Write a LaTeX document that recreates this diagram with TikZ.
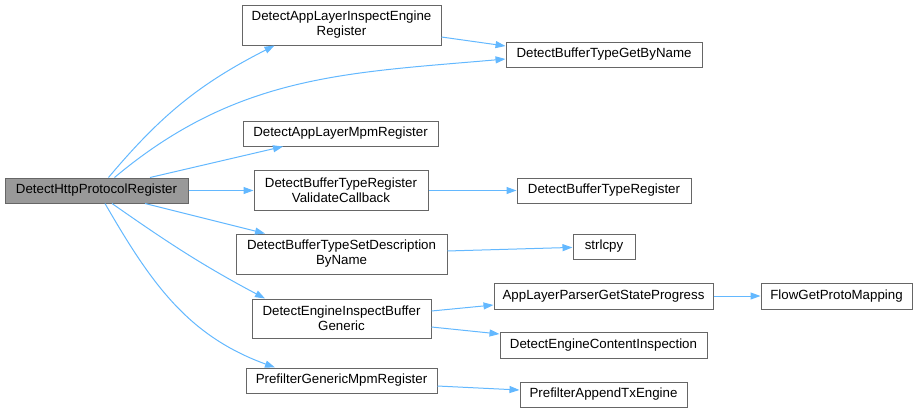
\documentclass[tikz,border=0pt]{standalone}
\usepackage{fontspec}
\setmainfont{Liberation Sans}
\usetikzlibrary{arrows.meta}
\definecolor{edgeblue}{HTML}{63B8FF}
\definecolor{boxgray}{HTML}{666666}
\definecolor{mainfill}{HTML}{999999}
\tikzset{
  fn/.style={draw=boxgray, fill=white, line width=1pt, align=center, inner sep=2pt,
    font=\fontsize{13.3}{15}\selectfont},
  mainfn/.style={fn, fill=mainfill},
  call/.style={draw=edgeblue, line width=1pt, -{Triangle[length=10pt,width=7pt]}}
}
\begin{document}
\begin{tikzpicture}[x=1pt,y=-1pt]
            \useasboundingbox (0,0) rectangle (917,413);
            \node[mainfn, minimum width=183, minimum height=25] (hpr) at (96.5,190.5) {DetectHttpProtocolRegister};
            \node[fn, minimum width=199, minimum height=40] (ireg) at (341.5,25) {DetectAppLayerInspectEngine\\Register};
            \node[fn, minimum width=196, minimum height=25] (gbn) at (604,54.5) {DetectBufferTypeGetByName};
            \node[fn, minimum width=195, minimum height=25] (mpm) at (340.5,133.5) {DetectAppLayerMpmRegister};
            \node[fn, minimum width=174, minimum height=40] (vcb) at (341,190.5) {DetectBufferTypeRegister\\ValidateCallback};
            \node[fn, minimum width=174, minimum height=25] (btr) at (604,190.5) {DetectBufferTypeRegister};
            \node[fn, minimum width=211, minimum height=40] (sdn) at (341.5,254) {DetectBufferTypeSetDescription\\ByName};
            \node[fn, minimum width=62, minimum height=25] (strl) at (604,246.5) {strlcpy};
            \node[fn, minimum width=179, minimum height=39] (ibg) at (341.5,318.5) {DetectEngineInspectBuffer\\Generic};
            \node[fn, minimum width=219, minimum height=26] (aps) at (603.5,296) {AppLayerParserGetStateProgress};
            \node[fn, minimum width=151, minimum height=26] (fgp) at (836.5,296) {FlowGetProtoMapping};
            \node[fn, minimum width=207, minimum height=26] (eci) at (603.5,345) {DetectEngineContentInspection};
            \node[fn, minimum width=191, minimum height=25] (pgm) at (341.5,380.5) {PrefilterGenericMpmRegister};
            \node[fn, minimum width=167, minimum height=25] (pat) at (603.5,394.5) {PrefilterAppendTxEngine};
            % calls from DetectHttpProtocolRegister
            \draw[call] ([xshift=12]hpr.north) to[out=50, in=207] ([xshift=-67]ireg.south);
            \draw[call] ([xshift=18]hpr.north) to[out=40, in=185] ([yshift=-4.5]gbn.west);
            \draw[call] ([xshift=53.5]hpr.north) -- ([xshift=-57.5]mpm.south);
            \draw[call] (hpr) -- (vcb);
            \draw[call] ([xshift=48.5]hpr.south) -- ([xshift=-76.5]sdn.north);
            \draw[call] ([xshift=15.5]hpr.south) to[out=-35, in=152] ([xshift=-76.5]ibg.north);
            \draw[call] ([xshift=8.5]hpr.south) to[out=-60, in=160] ([xshift=-66.5]pgm.north);
            % second level
            \draw[call] ([yshift=-12]ireg.east) -- ([yshift=8.5]gbn.west);
            \draw[call] (vcb) -- (btr);
            \draw[call] (sdn) -- (strl);
            \draw[call] ([yshift=7.5]ibg.east) -- ([yshift=-9]aps.west);
            \draw[call] ([yshift=-8.5]ibg.east) -- ([yshift=11]eci.west);
            \draw[call] (aps) -- (fgp);
            \draw[call] ([yshift=-5.5]pgm.east) -- ([yshift=4.5]pat.west);
        \end{tikzpicture}
\end{document}
